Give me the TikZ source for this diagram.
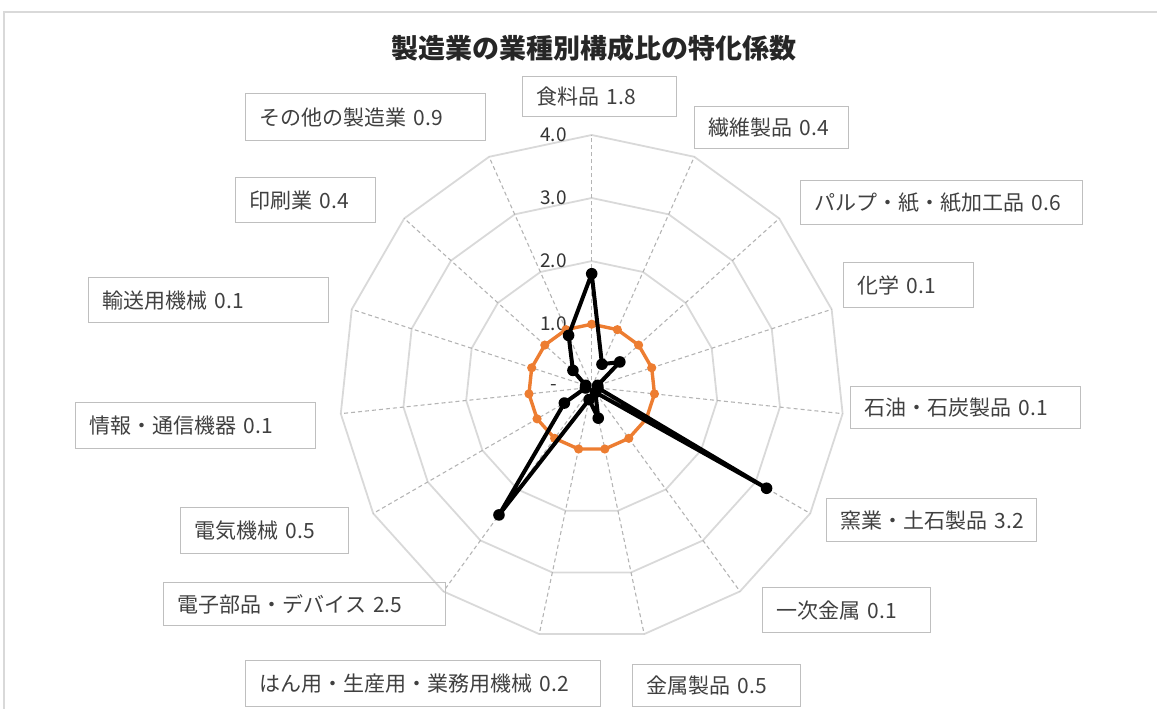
\documentclass[tikz,border=0pt]{standalone}
\usepackage{fontspec}
\setmainfont{Noto Sans CJK JP}
\usetikzlibrary{calc}
\definecolor{ringgray}{HTML}{D9D9D9}
\definecolor{spokegray}{HTML}{B4B4B4}
\definecolor{boxgray}{HTML}{BFBFBF}
\definecolor{framegray}{HTML}{D9D9D9}
\definecolor{serieso}{HTML}{ED7D31}
\definecolor{txt}{HTML}{404040}
\tikzset{
  ringline/.style={draw=ringgray, line width=1.8pt},
  spokeline/.style={draw=spokegray, line width=1.1pt, dash pattern=on 4pt off 3pt},
  lbox/.style={draw=boxgray, line width=1.4pt, anchor=north west, inner xsep=14pt, inner ysep=0pt, align=left, font=\fontsize{21}{24}\selectfont, text=txt},
  axnum/.style={anchor=east, inner sep=0pt, font=\fontsize{19}{22}\selectfont, text=black!80},
  orangeline/.style={draw=serieso, line width=3.4pt, line join=round},
  blackline/.style={draw=black, line width=4pt, line join=round},
}
\begin{document}
\begin{tikzpicture}[x=1pt,y=1pt]
\useasboundingbox (0,0) rectangle (1157,709);
\draw[framegray, line width=1.5pt] (4,-5) -- (4,697) -- (1165,697);
\coordinate (O) at (591.7,321.7);
% rings
\foreach \R in {63.1,126.2,189.3,252.3}{
  \draw[ringline, shift={(O)}] (90:\R) \foreach \k in {1,...,14}{ -- ({90-24*\k}:\R)} -- cycle;
}
% spokes
\foreach \k in {0,...,14}{
  \coordinate (s\k) at ($(O)+({90-24*\k}:252.3)$);
  \draw[spokeline] (O) -- (s\k);
}
% axis numbers
\node[axnum] (a0) at (557,321.7) {-};
\node[axnum] (a1) at (567,384.8) {1.0};
\node[axnum] (a2) at (567,447.9) {2.0};
\node[axnum] (a3) at (567,511.0) {3.0};
\node[axnum] (a4) at (567,574.0) {4.0};
% orange series
\foreach \i in {0,...,14}{
  \coordinate (o\i) at ($(O)+({90-24*\i}:63.1)$);
}
\draw[orangeline] (o0) \foreach \i in {1,...,14}{ -- (o\i)} -- cycle;
\foreach \i in {0,...,14}{ \fill[serieso] (o\i) circle (4.6); }
% black series
\foreach \v [count=\i from 0] in {1.8,0.4,0.6,0.1,0.1,3.2,0.1,0.5,0.2,2.5,0.5,0.1,0.1,0.4,0.9}{
  \coordinate (b\i) at ($(O)+({90-24*\i}:{\v*63.1})$);
}
\draw[blackline] (b0) \foreach \i in {1,...,14}{ -- (b\i)} -- cycle;
\foreach \i in {0,...,14}{ \fill[black] (b\i) circle (5.8); }
% title
\node[font=\fontsize{27}{30}\selectfont\bfseries, text=black!85] (title) at (594,661) {製造業の業種別構成比の特化係数};
% labels
\node[lbox, minimum width=154pt, minimum height=40pt, text width=126pt] (l1) at (522,633) {\mbox{食料品 1.8}};
\node[lbox, minimum width=154pt, minimum height=42pt, text width=126pt] (l2) at (694,603) {\mbox{繊維製品 0.4}};
\node[lbox, minimum width=282pt, minimum height=44pt, text width=254pt] (l3) at (800,529) {\mbox{パルプ・紙・紙加工品 0.6}};
\node[lbox, minimum width=130pt, minimum height=45pt, text width=102pt] (l4) at (843,447) {\mbox{化学 0.1}};
\node[lbox, minimum width=230pt, minimum height=42pt, text width=202pt] (l5) at (850,323) {\mbox{石油・石炭製品 0.1}};
\node[lbox, minimum width=210pt, minimum height=43pt, text width=182pt] (l6) at (826,211) {\mbox{窯業・土石製品 3.2}};
\node[lbox, minimum width=168pt, minimum height=45pt, text width=140pt] (l7) at (762,122) {\mbox{一次金属 0.1}};
\node[lbox, minimum width=168pt, minimum height=42pt, text width=140pt] (l8) at (632,45) {\mbox{金属製品 0.5}};
\node[lbox, minimum width=355pt, minimum height=46pt, text width=327pt] (l9) at (245,49) {\mbox{はん用・生産用・業務用機械 0.2}};
\node[lbox, minimum width=282pt, minimum height=43pt, text width=254pt] (l10) at (163,127) {\mbox{電子部品・デバイス 2.5}};
\node[lbox, minimum width=168pt, minimum height=46pt, text width=140pt] (l11) at (180,202) {\mbox{電気機械 0.5}};
\node[lbox, minimum width=240pt, minimum height=46pt, text width=212pt] (l12) at (75,307) {\mbox{情報・通信機器 0.1}};
\node[lbox, minimum width=240pt, minimum height=45pt, text width=212pt] (l13) at (88,432) {\mbox{輸送用機械 0.1}};
\node[lbox, minimum width=140pt, minimum height=45pt, text width=112pt] (l14) at (235,532) {\mbox{印刷業 0.4}};
\node[lbox, minimum width=240pt, minimum height=47pt, text width=212pt] (l15) at (245,616) {\mbox{その他の製造業 0.9}};
\end{tikzpicture}
\end{document}
